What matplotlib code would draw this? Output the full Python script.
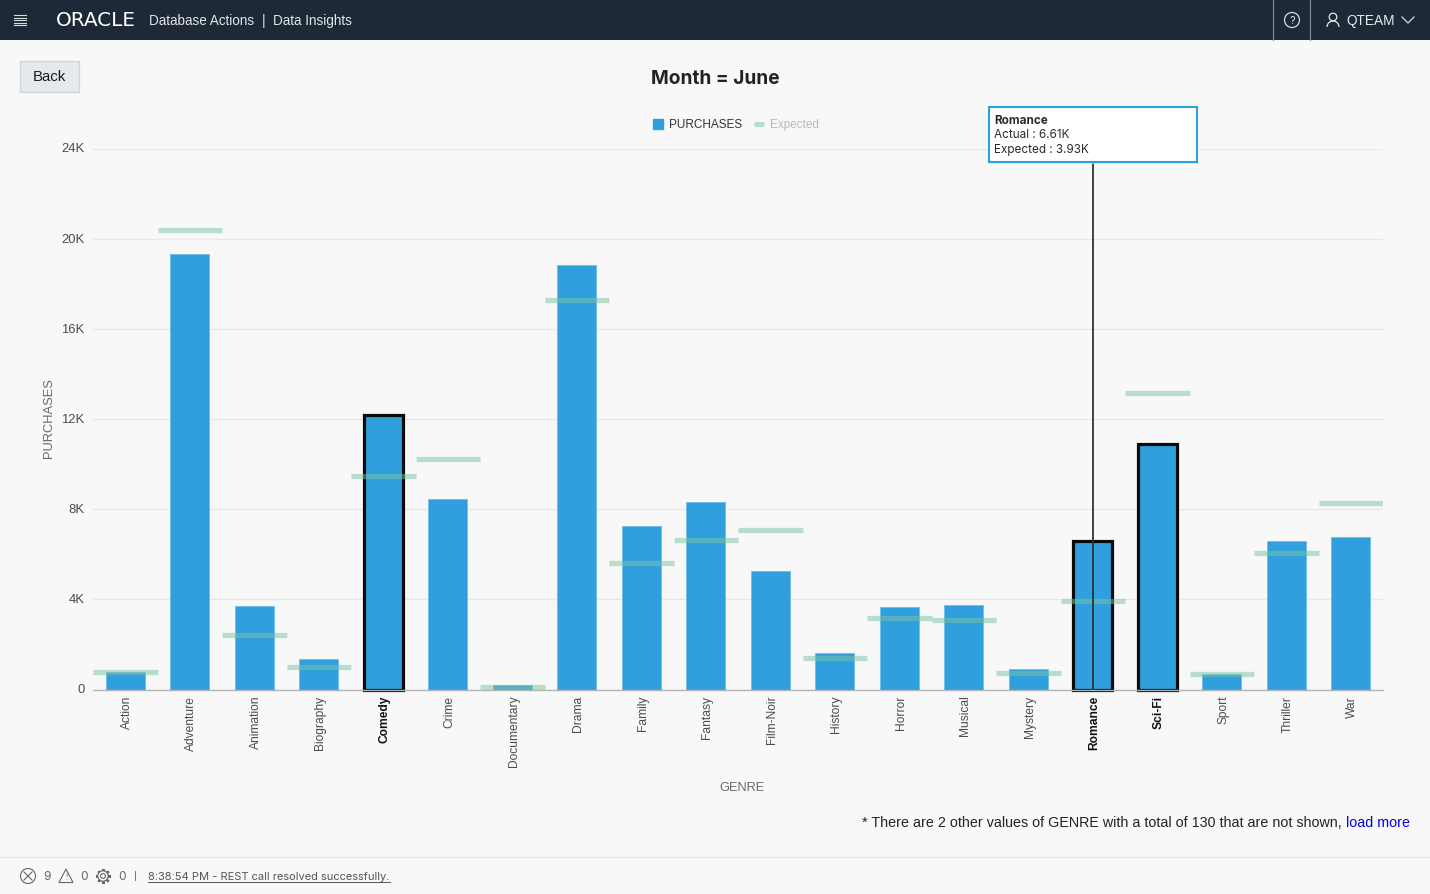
import matplotlib
matplotlib.use("Agg")
import matplotlib.pyplot as plt
from matplotlib.lines import Line2D
from matplotlib.patches import Patch, Rectangle, Circle, Polygon, Arc
from matplotlib.transforms import ScaledTranslation

genres = ["Action", "Adventure", "Animation", "Biography", "Comedy", "Crime",
          "Documentary", "Drama", "Family", "Fantasy", "Film-Noir", "History",
          "Horror", "Musical", "Mystery", "Romance", "Sci-Fi", "Sport",
          "Thriller", "War"]
# thousands of purchases
purchases = [0.78, 19.33, 3.70, 1.37, 12.20, 8.46, 0.20, 18.85, 7.28, 8.33,
             5.24, 1.60, 3.66, 3.77, 0.89, 6.61, 10.90, 0.69, 6.60, 6.78]
expected = [0.76, 20.40, 2.42, 1.02, 9.47, 10.23, 0.10, 17.30, 5.60, 6.62,
            7.08, 1.42, 3.18, 3.10, 0.73, 3.93, 13.15, 0.70, 6.08, 8.30]
highlighted = ["Comedy", "Romance", "Sci-Fi"]
y_ticks = [0, 4, 8, 12, 16, 20, 24]
y_tick_labels = ["0", "4K", "8K", "12K", "16K", "20K", "24K"]

W, H = 1430, 894
BG = "#f8f8f8"
HEADER = "#1d2936"
BLUE = "#309fde"
GREEN = "#7ac4a2"
TEXT = "#4c4c4c"
SANS = "Liberation Sans"
UI = "Inter"


def px(size):
    # css pixels to points at dpi 100
    return size * 0.72


fig = plt.figure(figsize=(W / 100, H / 100), dpi=100, facecolor=BG)

# Chart
ax = fig.add_axes([93 / W, 1 - 689.5 / H, 1290 / W, 540.5 / H], facecolor="none")
x = list(range(len(genres)))
ax.bar(x, purchases, width=0.6, color=BLUE, edgecolor="#6fbde9", linewidth=0.6, zorder=2)
for i, g in enumerate(genres):
    if g in highlighted:
        ax.bar(i, purchases[i], width=0.6, color=BLUE, edgecolor="#0a0a0a",
               linewidth=2.3, zorder=3, clip_on=False)
ax.hlines(expected, [i - 0.5 for i in x], [i + 0.5 for i in x], color=GREEN,
          alpha=0.5, linewidth=3.8, zorder=4, capstyle="butt")

# Crosshair for the hovered genre
rom = genres.index("Romance")
ax.vlines(rom, 0, 23.4, color="#333333", linewidth=1.3, zorder=5)

ax.set_xlim(-0.5, len(genres) - 0.5)
ax.set_ylim(0, 24)
ax.set_yticks(y_ticks)
ax.set_yticklabels(y_tick_labels, fontsize=px(13), color=TEXT, family=SANS)
ax.set_xticks(x)
ax.set_xticklabels(genres, rotation=90, fontsize=px(12), color=TEXT, family=SANS,
                   ha="center", va="top")
ax.tick_params(axis="both", length=0)
ax.tick_params(axis="x", pad=4.5)
ax.tick_params(axis="y", pad=6)
# nudge the tick labels, has to come after tick_params
nudge_x = ScaledTranslation(1.7 / 100, 0, fig.dpi_scale_trans)
nudge_y = ScaledTranslation(0, 1 / 100, fig.dpi_scale_trans)
for lab in ax.get_xticklabels():
    lab.set_transform(lab.get_transform() + nudge_x)
    if lab.get_text() in highlighted:
        lab.set_fontweight("bold")
        lab.set_color("#111111")
for lab in ax.get_yticklabels():
    lab.set_transform(lab.get_transform() + nudge_y)
ax.grid(axis="y", color="#e7e8e9", linewidth=0.9, zorder=0)
ax.set_axisbelow(True)
for side in ["top", "right", "left"]:
    ax.spines[side].set_visible(False)
ax.spines["bottom"].set_color("#b4b4b4")
ax.spines["bottom"].set_linewidth(1.0)
ax.spines["bottom"].set_zorder(6)
ax.set_xlabel("GENRE", fontsize=px(12.7), color="#6a6a6a", family=SANS)
ax.xaxis.set_label_coords((742 - 93) / 1290, -(788 - 689.5) / 540.5)
ax.xaxis.label.set_va("center")
ax.set_ylabel("PURCHASES", fontsize=px(12.9), color="#6a6a6a", family=SANS)
ax.yaxis.set_label_coords((49 - 93) / 1290, (689.5 - 418) / 540.5)
ax.yaxis.label.set_va("center")

handles = [Patch(facecolor=BLUE, edgecolor=BLUE),
           Line2D([0], [0], color=GREEN, alpha=0.5, linewidth=3.6, solid_capstyle="butt")]
leg = ax.legend(handles, ["PURCHASES", "Expected"], ncol=2, frameon=False,
                loc="center", bbox_to_anchor=(736 / W, 1 - 125 / H),
                bbox_transform=fig.transFigure, prop={"family": SANS, "size": px(11.7)},
                handlelength=0.85, handleheight=0.85, handletextpad=0.55, columnspacing=0.95)
leg.get_texts()[0].set_color("#333333")
leg.get_texts()[1].set_color("#b9b9b9")

# Page furniture, drawn in pixel coordinates
ui = fig.add_axes([0, 0, 1, 1], facecolor="none", zorder=10)
ui.set_xlim(0, W)
ui.set_ylim(H, 0)
ui.axis("off")

ui.add_patch(Rectangle((0, 0), W, 40, facecolor=HEADER, edgecolor="none"))
for y in [15, 17.5, 20, 22.5, 25]:
    ui.plot([14, 26], [y, y], color="#d8dbde", linewidth=0.8)
ui.text(96, 20.5, "ORACLE", color="white", fontsize=px(20), family="DejaVu Sans",
        ha="center", va="center")
ui.text(149, 21, "Database Actions", color="#e4e6e8", fontsize=px(13.5), family=SANS, va="center")
ui.text(264, 20.5, "|", color="#e4e6e8", fontsize=px(14), family=SANS, ha="center", va="center")
ui.text(273, 21, "Data Insights", color="#e4e6e8", fontsize=px(13.5), family=SANS, va="center")
ui.plot([1273, 1273], [0, 40], color="#8a9098", linewidth=0.8)
ui.plot([1310, 1310], [0, 40], color="#8a9098", linewidth=0.8)
ui.add_patch(Circle((1292, 20), 7.5, facecolor="none", edgecolor="#d8dbde", linewidth=0.9))
ui.text(1292, 20.5, "?", color="#d8dbde", fontsize=px(11), family=UI, ha="center", va="center")
ui.add_patch(Circle((1333, 17), 3.8, facecolor="none", edgecolor="#e4e6e8", linewidth=0.9))
ui.add_patch(Arc((1333, 27), 12, 12, theta1=180, theta2=360, edgecolor="#e4e6e8", linewidth=0.9))
ui.text(1346, 21, "QTEAM", color="#e8eaec", fontsize=px(13.6), family=SANS, va="center")
ui.plot([1402, 1408, 1414], [17, 23, 17], color="#d8dbde", linewidth=0.9)

ui.add_patch(Rectangle((20, 60.5), 59, 31, facecolor="#e6e9ec", edgecolor="#d2d5d8", linewidth=1))
ui.text(49.5, 77, "Back", color="#1a1a1a", fontsize=px(15), family=SANS, ha="center", va="center")
ui.text(715, 78.5, "Month = June", color="#222222", fontsize=px(19.1), family=UI,
        fontweight="bold", ha="center", va="center")

# Tooltip
ui.add_patch(Rectangle((990, 109), 208, 55, facecolor="#dddddd", edgecolor="none", alpha=0.6))
ui.add_patch(Rectangle((989, 107), 208, 55, facecolor="white", edgecolor="#2f9fe0", linewidth=1.5))
ui.text(994, 120.5, "Romance", color="#2b2b2b", fontsize=px(11.7), family=UI,
        fontweight="bold", va="center")
ui.text(994, 135.5, "Actual : 6.61K", color="#2b2b2b", fontsize=px(11.7), family=UI, va="center")
ui.text(994, 150.5, "Expected : 3.93K", color="#2b2b2b", fontsize=px(11.7), family=UI, va="center")

# Truncation note
ui.text(1342, 823, "* There are 2 other values of GENRE with a total of 130 that are not shown,",
        color="#222222", fontsize=px(14.2), family=SANS, ha="right", va="center")
ui.text(1346, 823, "load more", color="#0000e0", fontsize=px(14.3), family=SANS, va="center")

# Footer
ui.plot([0, W], [857, 857], color="#e4e4e4", linewidth=1)
ui.add_patch(Circle((28, 876), 7.5, facecolor="none", edgecolor="#666666", linewidth=0.8))
ui.plot([24, 32], [872, 880], color="#666666", linewidth=0.8)
ui.plot([24, 32], [880, 872], color="#666666", linewidth=0.8)
ui.text(43, 876.5, "9", color="#666666", fontsize=px(12), family=UI, va="center")
ui.add_patch(Polygon([(66, 869), (73, 882.5), (59, 882.5)], closed=True, facecolor="none",
                     edgecolor="#666666", linewidth=0.8))
ui.text(66, 877.5, "!", color="#666666", fontsize=px(8), family=UI, ha="center", va="center")
ui.text(80, 876.5, "0", color="#666666", fontsize=px(12), family=UI, va="center")
ui.plot([103], [876], marker=(8, 2, 0), markersize=10.5, markeredgecolor="#666666",
        markeredgewidth=1.6)
ui.add_patch(Circle((103, 876), 5.2, facecolor=BG, edgecolor="#666666", linewidth=0.8, zorder=3))
ui.add_patch(Circle((103, 876), 2.4, facecolor="none", edgecolor="#666666", linewidth=0.8, zorder=3))
ui.text(118, 876.5, "0", color="#666666", fontsize=px(12), family=UI, va="center")
ui.text(135.5, 876, "|", color="#666666", fontsize=px(11), family=SANS, ha="center", va="center")
ui.text(148, 876.5, "8:38:54 PM - REST call resolved successfully.", color="#555555",
        fontsize=px(11.1), family=UI, va="center")
ui.plot([148, 390], [882, 882], color="#555555", linewidth=0.7)

fig.savefig("out.png", dpi=100, facecolor=BG)
